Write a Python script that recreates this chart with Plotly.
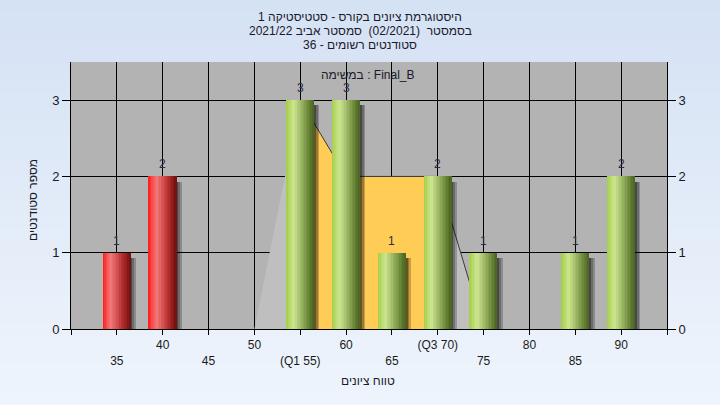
import plotly.graph_objects as go

# ---------------- data ----------------
categories = [35, 40, 55, 60, 65, 70, 75, 85, 90]
counts = [1, 2, 3, 3, 1, 2, 1, 1, 2]
pass_grade = 55
tick_values = [30, 35, 40, 45, 50, 55, 60, 65, 70, 75, 80, 85, 90, 95]
tick_labels = ["", "35", "40", "45", "50", "(Q1 55)", "60", "65", "(Q3 70)", "75", "80", "85", "90", ""]
second_row = [False, True, False, True, False, True, False, True, False, True, False, True, False, False]
curve_x = [50, 55, 60, 65, 70, 75]
curve_y = [0, 3, 2, 2, 2, 0]
q1, q3 = 55, 70
y_ticks = [0, 1, 2, 3]

title_lines = ["היסטוגרמת ציונים בקורס - סטטיסטיקה 1",
               "בסמסטר  (02/2021)  סמסטר אביב 2021/22",
               "סטודנטים רשומים - 36"]
task_label = "במשימה : Final_B"
x_title = "טווח ציונים"
y_title = "מספר סטודנטים"

# ---------------- helpers ----------------
def hex2rgb(h):
    h = h.lstrip('#')
    return [int(h[i:i + 2], 16) for i in (0, 2, 4)]

def interp(stops, t):
    for (t0, c0), (t1, c1) in zip(stops, stops[1:]):
        if t0 <= t <= t1:
            f = (t - t0) / (t1 - t0) if t1 > t0 else 0
            a, b = hex2rgb(c0), hex2rgb(c1)
            return "rgb(%d,%d,%d)" % tuple(round(a[k] + (b[k] - a[k]) * f) for k in range(3))
    return stops[-1][1]

green_stops = [(0, "#A4CE48"), (0.28, "#CDE590"), (0.55, "#9DB866"), (0.8, "#6C8A3A"), (1, "#4A6220")]
red_stops = [(0, "#FF1818"), (0.28, "#F27A7A"), (0.55, "#D24C4C"), (0.8, "#A42424"), (1, "#701010")]

W = 3.0
N = 18
PLOT_L, PLOT_R, PLOT_T, PLOT_B = 71, 667, 62, 329
FIG_W, FIG_H = 720, 405
ph = PLOT_B - PLOT_T
pw = PLOT_R - PLOT_L

def py(pix):  # pixel row -> paper y
    return (PLOT_B - pix) / ph

def px(pix):
    return (pix - PLOT_L) / pw

fig = go.Figure()

# ---- area curve on main axes (drawn beneath the bars) ----
fig.add_trace(go.Scatter(x=curve_x, y=curve_y, mode="lines", fill="tozeroy",
                         fillcolor="#BFBFBF", line=dict(width=0), hoverinfo="skip", showlegend=False))
iq_x = [x for x in curve_x if q1 <= x <= q3]
iq_y = [y for x, y in zip(curve_x, curve_y) if q1 <= x <= q3]
fig.add_trace(go.Scatter(x=iq_x, y=iq_y, mode="lines", fill="tozeroy",
                         fillcolor="#FFCC55", line=dict(color="#3a3a3a", width=1),
                         hoverinfo="skip", showlegend=False))
tail_x = [x for x in curve_x if x >= q3]
tail_y = [y for x, y in zip(curve_x, curve_y) if x >= q3]
fig.add_trace(go.Scatter(x=tail_x, y=tail_y, mode="lines",
                         line=dict(color="#3a3a3a", width=1), hoverinfo="skip", showlegend=False))

# ---- bars on overlaying axes ----
shadow_tops = [c - 0.07 for c in counts]
for k, (alpha, wid) in enumerate([(0.6, 0.2), (0.4, 0.2), (0.22, 0.2)]):
    fig.add_trace(go.Bar(x=categories, y=shadow_tops, width=wid, offset=W / 2 + k * wid,
                         xaxis="x2", yaxis="y2",
                         marker=dict(color="rgba(0,0,0,%.2f)" % alpha, line=dict(width=0)),
                         hoverinfo="skip", showlegend=False))

for i in range(N):
    t = (i + 0.5) / N
    cols = [interp(red_stops if c < pass_grade else green_stops, t) for c in categories]
    fig.add_trace(go.Bar(x=categories, y=counts, width=W / N * 1.05, offset=-W / 2 + i * W / N,
                         xaxis="x2", yaxis="y2",
                         marker=dict(color=cols, line=dict(width=0)),
                         hoverinfo="skip", showlegend=False))

# background gradient + plot bg
shapes = []
NB = 30
top_c, bot_c = hex2rgb("#D5E2F4"), hex2rgb("#EEF4FC")
for b in range(NB):
    f = b / (NB - 1)
    c = "rgb(%d,%d,%d)" % tuple(round(top_c[k] + (bot_c[k] - top_c[k]) * f) for k in range(3))
    shapes.append(dict(type="rect", xref="paper", yref="paper", layer="below",
                       x0=px(-5), x1=px(FIG_W + 5),
                       y0=py(FIG_H * (b + 1) / NB + 1), y1=py(FIG_H * b / NB - 1),
                       fillcolor=c, line=dict(width=0)))
shapes.append(dict(type="rect", xref="x domain", yref="y domain", layer="below",
                   x0=0, x1=1, y0=0, y1=1, fillcolor="#B3B3B3", line=dict(width=0)))

font_main = "Liberation Sans, DejaVu Sans, Arial"
annotations = []
for k, line in enumerate(title_lines):
    annotations.append(dict(text=line, xref="paper", yref="paper",
                            x=px(360), y=py(17 + 14 * k),
                            xanchor="center", yanchor="middle", showarrow=False,
                            font=dict(family=font_main, size=12, color="#1a1a2a")))
annotations.append(dict(text=task_label, xref="paper", yref="paper",
                        x=px(368), y=py(75), xanchor="center", yanchor="middle",
                        showarrow=False, font=dict(family=font_main, size=12, color="#1a1a2a")))
annotations.append(dict(text=x_title, xref="paper", yref="paper",
                        x=px(368), y=py(381), xanchor="center", yanchor="middle",
                        showarrow=False, font=dict(family=font_main, size=12, color="#1a1a2a")))
annotations.append(dict(text=y_title, xref="paper", yref="paper",
                        x=px(33), y=py(200), xanchor="center", yanchor="middle",
                        textangle=-90, showarrow=False, font=dict(family=font_main, size=12, color="#1a1a2a")))
# value labels above bars
for c, v in zip(categories, counts):
    annotations.append(dict(text=str(v), x=c, y=v, xref="x2", yref="y2",
                            yanchor="middle", yshift=12, showarrow=False,
                            font=dict(family=font_main, size=12, color="#2a2a44")))

ticktext = [("&nbsp;<br>" + t) if s and t else t for t, s in zip(tick_labels, second_row)]

axis_common = dict(showline=True, linecolor="black", linewidth=1, tickcolor="black", zeroline=False)
fig.update_layout(
    width=FIG_W, height=FIG_H,
    margin=dict(l=PLOT_L, r=FIG_W - PLOT_R, t=PLOT_T, b=FIG_H - PLOT_B),
    paper_bgcolor="#E3ECF8", plot_bgcolor="rgba(0,0,0,0)",
    barmode="overlay", bargap=0, showlegend=False,
    shapes=shapes, annotations=annotations,
    font=dict(family=font_main, size=11, color="#1a1a1a"),
    xaxis=dict(range=[30, 95], tickmode="array", tickvals=tick_values, ticktext=ticktext,
               showgrid=True, gridcolor="black", gridwidth=1,
               ticks="outside", ticklen=5,
               tickfont=dict(family=font_main, size=12, color="#1a1a1a"), **axis_common),
    xaxis2=dict(range=[30, 95], overlaying="x", visible=False),
    yaxis=dict(range=[0, 3.5], tickmode="array", tickvals=y_ticks,
               showgrid=True, gridcolor="black", gridwidth=1,
               ticks="outside", ticklen=8,
               tickfont=dict(family=font_main, size=13, color="#1a1a2a"), **axis_common),
    yaxis2=dict(range=[0, 3.5], tickmode="array", tickvals=y_ticks, overlaying="y", side="right",
                showgrid=False, ticks="outside", ticklen=8,
                tickfont=dict(family=font_main, size=13, color="#1a1a2a"), **axis_common),
)

fig.write_html("out.html", config={"displayModeBar": False},
               post_script="document.body.style.margin='0';")
